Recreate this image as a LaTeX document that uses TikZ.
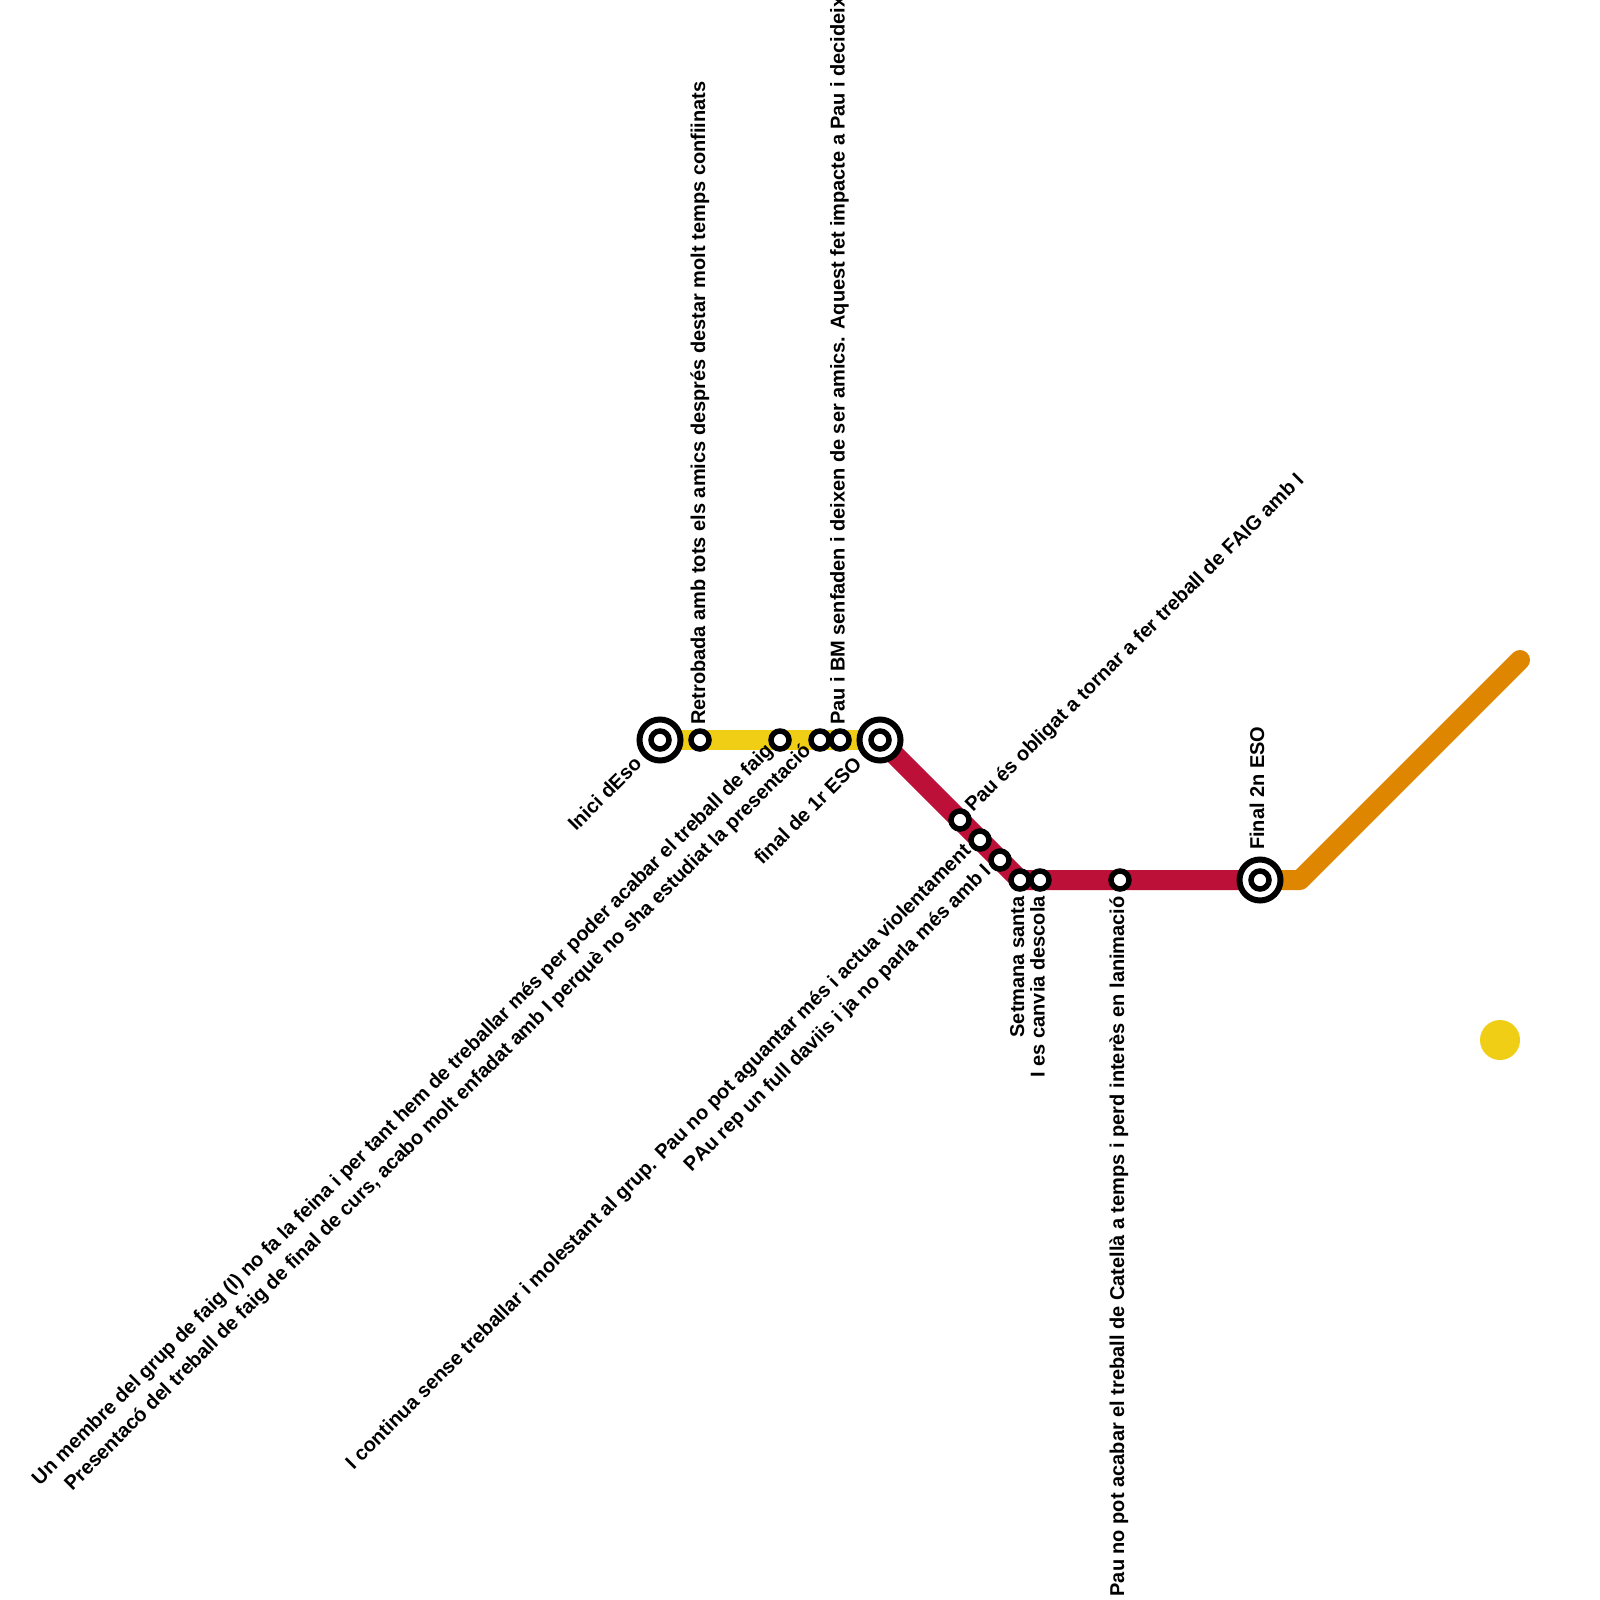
\documentclass[tikz,border=0pt]{standalone}
\usepackage{fontspec}
\setmainfont[Ligatures=NoCommon,Kerning=Off]{Liberation Sans}
\usetikzlibrary{backgrounds}
\definecolor{lineyellow}{HTML}{F0CE15}
\definecolor{linered}{HTML}{BD1038}
\definecolor{lineorange}{HTML}{DF8600}
\tikzset{
  stn/.style={circle,draw=black,fill=white,line width=5.5pt,minimum size=18pt,inner sep=0pt},
  term/.style={circle,draw=black,fill=white,line width=6pt,minimum size=41pt,inner sep=0pt},
  termin/.style={circle,draw=black,fill=white,line width=5.5pt,minimum size=18pt,inner sep=0pt},
  route/.style={line width=20pt,line join=round,line cap=round},
  lab/.style={inner sep=0pt,font=\fontsize{20}{20}\selectfont\bfseries,text=black},
  up/.style={lab,rotate=90,anchor=base west},
  down/.style={lab,rotate=90,anchor=base east},
  dup/.style={lab,rotate=45,anchor=base west},
  ddown/.style={lab,rotate=45,anchor=base east}
}
\begin{document}
\begin{tikzpicture}[x=1pt,y=-1pt]
\useasboundingbox (0,0) rectangle (1600,1600);
\clip (0,0) rectangle (1600,1600);
\node[term] (a) at (660,740) {};
\node[termin] (ai) at (660,740) {};
\node[stn] (b) at (700,740) {};
\node[stn] (c) at (780,740) {};
\node[stn] (d) at (820,740) {};
\node[stn] (e) at (840,740) {};
\node[term] (f) at (880,740) {};
\node[termin] (fi) at (880,740) {};
\node[stn] (g) at (960,820) {};
\node[stn] (h) at (980,840) {};
\node[stn] (i) at (1000,860) {};
\node[stn] (j) at (1020,880) {};
\node[stn] (k) at (1040,880) {};
\node[stn] (l) at (1120,880) {};
\node[term] (m) at (1260,880) {};
\node[termin] (mi) at (1260,880) {};
\coordinate (bend) at (1300,880);
\coordinate (endo) at (1520,660);
\node[circle,fill=lineyellow,minimum size=40pt,inner sep=0pt] (dot) at (1500,1040) {};
\begin{pgfonlayer}{background}
\draw[route,lineorange] (m.center) -- (bend) -- (endo);
\draw[route,linered] (f.center) -- (g.center) -- (h.center) -- (i.center) -- (j.center) -- (k.center) -- (l.center) -- (m.center);
\draw[route,lineyellow] (a.center) -- (b.center) -- (c.center) -- (d.center) -- (e.center) -- (f.center);
\end{pgfonlayer}
\node[ddown] (t1) at (643,765) {Inici dEso};
\node[up] (t2) at (705,725) {Retrobada amb tots els amics després destar molt temps confiinats};
\node[ddown] (t3) at (774,752) {Un membre del grup de faig (I) no fa la feina i per tant hem de treballar més per poder acabar el treball de faig};
\node[ddown] (t4) at (812,752) {Presentacó del treball de faig de final de curs, acabo molt enfadat amb I perquè no sha estudiat la presentació};
\node[up] (t5) at (844.5,725) {\addfontfeature{LetterSpace=-0.33}Pau i BM senfaden i deixen de ser amics. Aquest fet impacte a Pau i decideix};
\node[ddown] (t6) at (863,765) {final de 1r ESO};
\node[dup] (t7) at (973,813) {Pau és obligat a tornar a fer treball de FAIG amb I};
\node[ddown] (t8) at (972,852) {I continua sense treballar i molestant al grup. Pau no pot aguantar més i actua violentament};
\node[ddown] (t9) at (992,872) {PAu rep un full daviis i ja no parla més amb I};
\node[down] (t10) at (1024,896) {Setmana santa};
\node[down] (t11) at (1044.5,896) {I es canvia descola};
\node[down] (t12) at (1124,896) {Pau no pot acabar el treball de Catellà a temps i perd interès en lanimació};
\node[up] (t13) at (1264,850) {Final 2n ESO};
\end{tikzpicture}
\end{document}
